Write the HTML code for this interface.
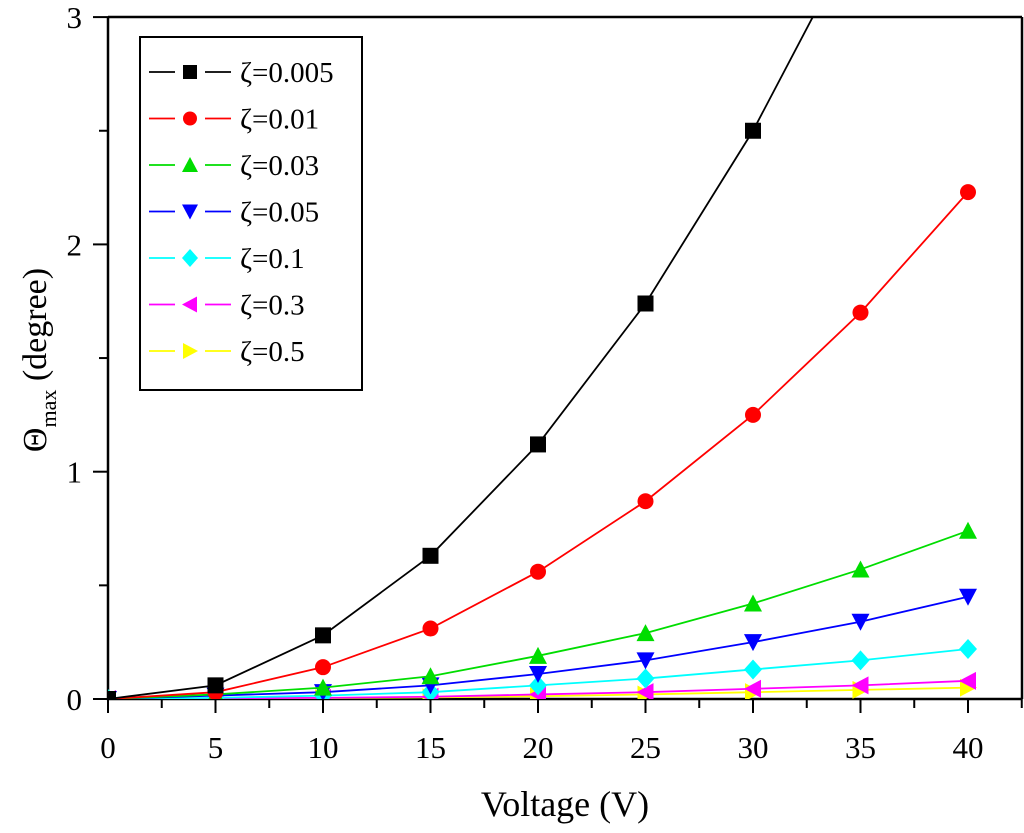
<!DOCTYPE html>
<html><head><meta charset="utf-8"><style>
body{margin:0;background:#fff;}
svg{display:block;}
text{font-family:'Liberation Serif','Times New Roman',serif;}
</style></head><body>
<svg id="chart" width="1024" height="833" viewBox="0 0 1024 833" xmlns="http://www.w3.org/2000/svg" font-family="Liberation Serif, serif">
<defs><clipPath id="pc"><rect x="108" y="17" width="914" height="682"/></clipPath></defs>
<g id="frame"></g>
<g id="xticks"></g>
<g id="yticks"></g>
<g id="series" clip-path="url(#pc)"></g>
<text x="565" y="816" font-size="36" text-anchor="middle" font-family="Liberation Serif, serif">Voltage (V)</text>
<text transform="translate(46,360) rotate(-90)" font-size="34" text-anchor="middle" font-family="Liberation Serif, serif">Θ<tspan font-size="22" dy="10">max</tspan><tspan dy="-10"> (degree)</tspan></text>
<g id="legend"></g>
</svg>
<script>
const xValues=[0,5,10,15,20,25,30,35,40];
const seriesLabels=["ζ=0.005","ζ=0.01","ζ=0.03","ζ=0.05","ζ=0.1","ζ=0.3","ζ=0.5"];
const s0005=[0,0.06,0.28,0.63,1.12,1.74,2.5,3.4,4.45];
const s001=[0,0.03,0.14,0.31,0.56,0.87,1.25,1.70,2.23];
const s003=[0,0.02,0.05,0.10,0.19,0.29,0.42,0.57,0.74];
const s005=[0,0.015,0.03,0.06,0.11,0.17,0.25,0.34,0.45];
const s01=[0,0.005,0.015,0.03,0.06,0.09,0.13,0.17,0.22];
const s03=[0,0.003,0.005,0.01,0.02,0.03,0.045,0.06,0.08];
const s05=[0,0.002,0.004,0.007,0.012,0.02,0.03,0.04,0.05];
const xTickLabels=["0","5","10","15","20","25","30","35","40"];
const yTickLabels=["0","1","2","3"];
const allSeries=[s0005,s001,s003,s005,s01,s03,s05];
const colors=["#000","#f00","#0d0","#00f","#0ff","#f0f","#ff0"];
const markers=["square","circle","up","down","diamond","left","right"];
const NS="http://www.w3.org/2000/svg";
const FF="Liberation Serif, serif";
const X=v=>108+v*21.5;
const Y=v=>699-v*227.3;
function mk(tag,attrs,parent){const e=document.createElementNS(NS,tag);for(const k in attrs)e.setAttribute(k,attrs[k]);parent.appendChild(e);return e;}
const frame=document.getElementById('frame');
let fl=mk('path',{d:"M108,17 L1022,17 M108,17 L108,699 L1022,699 M1022,699 L1022,17",stroke:"#000","stroke-width":"2.5",fill:"none"},frame);


const xt=document.getElementById('xticks');
for(let v=0;v<=42.5;v+=2.5){
  const major=(v%5===0);
  const t=mk('line',{x1:X(v),x2:X(v),y1:699,y2:major?713:708,stroke:"#000","stroke-width":"2"},xt);
  
  
}
xValues.forEach((v,i)=>{
  const t=mk('text',{x:X(v),y:758,"font-size":"31","text-anchor":"middle","font-family":FF},xt);
  t.textContent=xTickLabels[i];
  
  
});
const yt=document.getElementById('yticks');
for(let v=0;v<=3.001;v+=0.5){
  const major=Math.abs(v-Math.round(v))<1e-6;
  const t=mk('line',{x1:major?93:99,x2:108,y1:Y(v),y2:Y(v),stroke:"#000","stroke-width":"2"},yt);
  
  
}
yTickLabels.forEach((s,i)=>{
  const t=mk('text',{x:82,y:Y(i)+11,"font-size":"31","text-anchor":"end","font-family":FF},yt);
  t.textContent=s;
  
  
});
function marker(type,cx,cy,c,parent,r){
  r=r||8;let e;
  if(type==="square")e=mk('rect',{x:cx-r,y:cy-r,width:2*r,height:2*r,fill:c},parent);
  else if(type==="circle")e=mk('circle',{cx:cx,cy:cy,r:r,fill:c},parent);
  else{let p;
    if(type==="up")p=[[cx,cy-r-1],[cx+r+1,cy+r],[cx-r-1,cy+r]];
    if(type==="down")p=[[cx,cy+r+1],[cx+r+1,cy-r],[cx-r-1,cy-r]];
    if(type==="left")p=[[cx-r-1,cy],[cx+r,cy-r-1],[cx+r,cy+r+1]];
    if(type==="right")p=[[cx+r+1,cy],[cx-r,cy-r-1],[cx-r,cy+r+1]];
    if(type==="diamond")p=[[cx,cy-r-2],[cx+r+1,cy],[cx,cy+r+2],[cx-r-1,cy]];
    e=mk('polygon',{points:p.map(q=>q.join(',')).join(' '),fill:c},parent);}
  return e;
}
const sg=document.getElementById('series');
for(let k=allSeries.length-1;k>=0;k--){
  const data=allSeries[k];
  const g=mk('g',{},sg);
  
  
  const ln=mk('polyline',{points:data.map((v,i)=>X(xValues[i])+','+Y(v)).join(' '),fill:"none",stroke:colors[k],"stroke-width":"1.8"},g);
  
  
  data.forEach((v,i)=>{
    const m=marker(markers[k],X(xValues[i]),Y(v),colors[k],g);
    
    
  });
}
const lg=document.getElementById('legend');
const lb=mk('rect',{x:140,y:37,width:222,height:353,fill:"#fff",stroke:"#000","stroke-width":"2"},lg);


seriesLabels.forEach((s,k)=>{
  const y=72+k*46.5;
  const g=mk('g',{},lg);
  
  
  mk('line',{x1:149,x2:175,y1:y,y2:y,stroke:colors[k],"stroke-width":"1.8"},g);
  mk('line',{x1:205,x2:231,y1:y,y2:y,stroke:colors[k],"stroke-width":"1.8"},g);
  marker(markers[k],190,y,colors[k],g,7);
  const t=mk('text',{x:240,y:y+10,"font-size":"29","font-family":FF},g);
  t.textContent=s;
});
</script>
</body></html>
